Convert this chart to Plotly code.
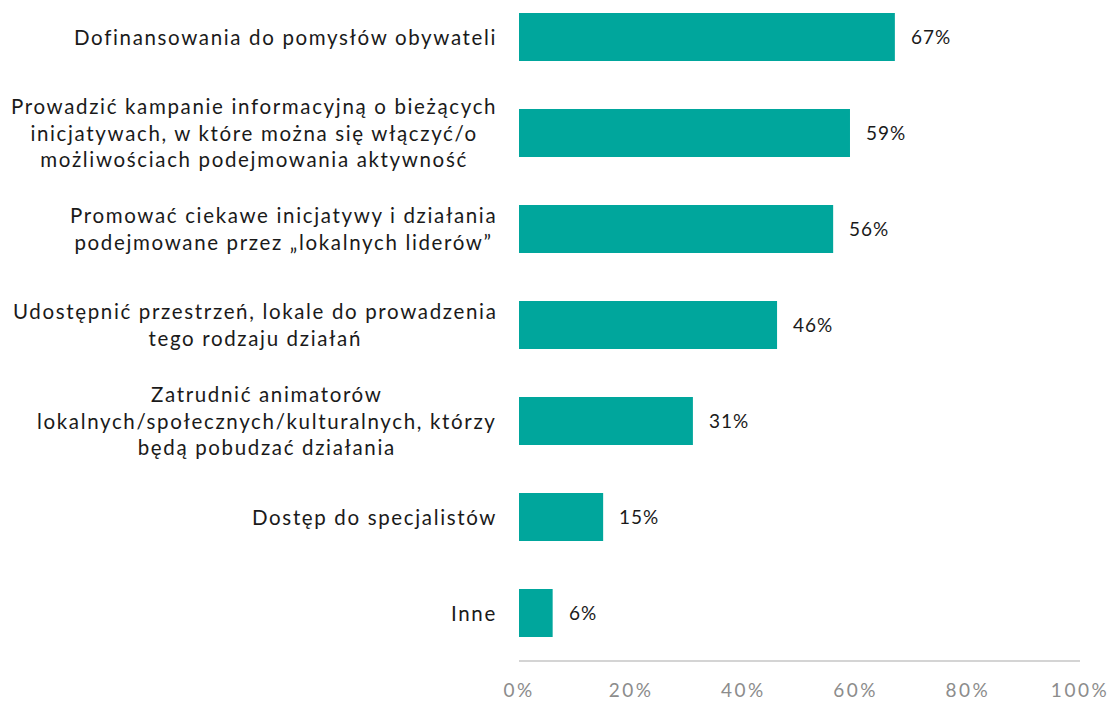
import plotly.graph_objects as go

categories = [
    "Dofinansowania do pomysłów obywateli",
    "Prowadzić kampanie informacyjną o bieżących<br>inicjatywach, w które można się włączyć/o<br>możliwościach podejmowania aktywność",
    "Promować ciekawe inicjatywy i działania<br>podejmowane przez „lokalnych liderów”",
    "Udostępnić przestrzeń, lokale do prowadzenia<br>tego rodzaju działań",
    "Zatrudnić animatorów<br>lokalnych/społecznych/kulturalnych, którzy<br>będą pobudzać działania",
    "Dostęp do specjalistów",
    "Inne",
]
values = [67, 59, 56, 46, 31, 15, 6]
tick_vals = [0, 20, 40, 60, 80, 100]
tick_text = ["0%", "20%", "40%", "60%", "80%", "100%"]

FONT = "Lato"
BAR = "#00A69C"


def spaced(s, px):
    return "<br>".join(
        f'<span style="letter-spacing:{px}px">{line}</span>' for line in s.split("<br>")
    )


fig = go.Figure()
fig.add_trace(go.Bar(
    x=values,
    y=list(range(len(categories))),
    orientation="h",
    width=0.5,
    marker=dict(color=BAR, line=dict(width=0)),
    hoverinfo="skip",
))

annotations = []
for i, (c, v) in enumerate(zip(categories, values)):
    annotations.append(dict(
        x=0, xref="paper", y=i, yref="y",
        text=spaced(c, 1.65), showarrow=False, xanchor="right", yanchor="middle",
        align="center", xshift=-20,
        font=dict(family=FONT, size=20.5, color="#1a1a1a"),
    ))
    annotations.append(dict(
        x=v, xref="x", y=i, yref="y",
        text=spaced(f"{v}%", 1), showarrow=False, xanchor="left", yanchor="middle",
        xshift=14,
        font=dict(family=FONT, size=19, color="#1a1a1a"),
    ))

fig.update_layout(
    width=1107, height=694,
    margin=dict(l=511, r=35, t=0, b=42),
    paper_bgcolor="white", plot_bgcolor="white",
    showlegend=False,
    annotations=annotations,
    font=dict(family=FONT),
)
fig.update_xaxes(
    range=[0, 100], tickvals=tick_vals, ticktext=[spaced(t, 2.5) for t in tick_text],
    showgrid=False, zeroline=False,
    showline=True, linecolor="#d4d4d4", linewidth=2,
    ticks="", ticklabelstandoff=12,
    tickfont=dict(family=FONT, size=19, color="#8c8c8c"),
)
fig.update_yaxes(
    range=[6.49, -0.302], showticklabels=False,
    showgrid=False, zeroline=False, showline=False, ticks="",
)

fig.write_html("out.html")
